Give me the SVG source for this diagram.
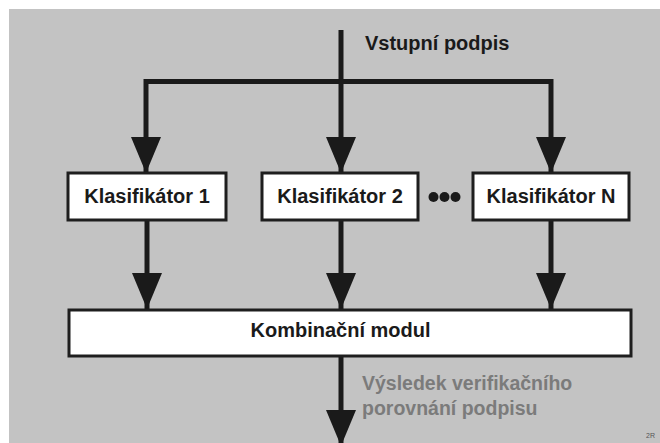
<svg xmlns="http://www.w3.org/2000/svg" width="660" height="443" viewBox="0 0 660 443">
<style>
.box{fill:#ffffff;stroke:#1e1e1e;stroke-width:3}
.lbl{font-family:"Liberation Sans",Arial,sans-serif;font-weight:bold;font-size:20px;fill:#1a1a1a}
.gray{font-family:"Liberation Sans",Arial,sans-serif;font-weight:bold;font-size:19.5px;fill:#7b7b7b}
.ln{fill:none;stroke:#1a1a1a;stroke-width:5}
</style>
<defs>
<marker id="ah" viewBox="0 0 36 30" refX="36" refY="15" markerWidth="36" markerHeight="30" markerUnits="userSpaceOnUse" orient="auto">
<path d="M0,0 L36,15 L0,30 z" fill="#1a1a1a"/>
</marker>
</defs>
<rect x="0" y="0" width="660" height="443" fill="#ffffff"/>
<rect x="9" y="9" width="651" height="434" fill="#c3c3c3"/>
<g id="connectors">
<path class="ln" d="M341,30 V173" marker-end="url(#ah)"/>
<path class="ln" d="M146,81.5 H551"/>
<path class="ln" d="M146,79 V173" marker-end="url(#ah)"/>
<path class="ln" d="M551,79 V173" marker-end="url(#ah)"/>
<path class="ln" d="M147,220 V309" marker-end="url(#ah)"/>
<path class="ln" d="M341,220 V309" marker-end="url(#ah)"/>
<path class="ln" d="M551,220 V309" marker-end="url(#ah)"/>
<path class="ln" d="M341,356 V446" marker-end="url(#ah)"/>
</g>
<g id="input-label">
<text class="lbl" x="365" y="50">Vstupní podpis</text>
</g>
<g id="klasifikator1">
<rect class="box" x="68" y="173" width="158" height="47"/>
<text class="lbl" x="147" y="203" text-anchor="middle">Klasifikátor 1</text>
</g>
<g id="klasifikator2">
<rect class="box" x="262" y="173" width="156" height="47"/>
<text class="lbl" x="340" y="203" text-anchor="middle">Klasifikátor 2</text>
</g>
<g id="ellipsis">
<circle cx="433.5" cy="197" r="5" fill="#1a1a1a"/>
<circle cx="444.5" cy="197" r="5" fill="#1a1a1a"/>
<circle cx="455.5" cy="197" r="5" fill="#1a1a1a"/>
</g>
<g id="klasifikatorN">
<rect class="box" x="473" y="173" width="156" height="47"/>
<text class="lbl" x="551" y="203" text-anchor="middle">Klasifikátor N</text>
</g>
<g id="kombinacni-modul">
<rect class="box" x="69" y="310" width="562" height="46"/>
<text class="lbl" x="340.5" y="337" text-anchor="middle">Kombinační modul</text>
</g>
<g id="output-label">
<text class="gray" x="362" y="390">Výsledek verifikačního</text>
<text class="gray" x="362" y="415">porovnání podpisu</text>
</g>
<text x="646" y="438" font-family="'Liberation Sans',Arial,sans-serif" font-size="7" fill="#555">2R</text>
</svg>
